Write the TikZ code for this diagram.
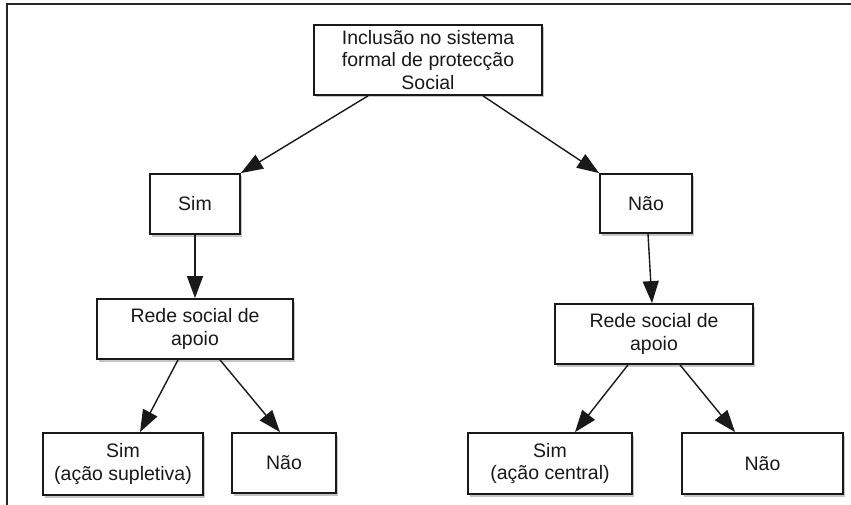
\documentclass[tikz,border=0pt]{standalone}
\usepackage{fontspec}
\setmainfont{Liberation Sans}
\usetikzlibrary{arrows.meta,shadows}

\begin{document}
\begin{tikzpicture}[x=1pt,y=-1pt,
	box/.style={draw=black!90,line width=1.8pt,fill=white,align=center,inner sep=0pt,
		font=\fontsize{19.5}{22.5}\selectfont,text=black!90,
		drop shadow={shadow xshift=2pt,shadow yshift=-2.5pt,fill=black!45}},
	arr/.style={-{Triangle[length=22pt,width=16pt]},line width=1.4pt,draw=black!90}]
			\useasboundingbox (0,0) rectangle (851,505);
			\draw[line width=2.5pt,black!85] (7,505) -- (7,4) -- (851,4);
			\node[box,minimum width=228,minimum height=70] (top) at (428,60) {Inclusão no sistema\\formal de protecção\\Social};
			\node[box,minimum width=90,minimum height=60] (sim) at (195,204) {Sim};
			\node[box,minimum width=92,minimum height=59] (nao) at (646,203.5) {Não};
			\node[box,minimum width=196,minimum height=60] (redeL) at (195,329) {Rede social de\\apoio};
			\node[box,minimum width=198,minimum height=60] (redeR) at (654,334) {Rede social de\\apoio};
			\node[box,minimum width=160,minimum height=62] (simS) at (123,464) {Sim\\(ação supletiva)};
			\node[box,minimum width=104,minimum height=60] (naoL) at (284,463) {Não};
			\node[box,minimum width=164,minimum height=61] (simC) at (550,463.5) {Sim\\(ação central)};
			\node[box,minimum width=161,minimum height=61] (naoR) at (762.5,463.5) {Não};
			\draw[arr] ([xshift=-60pt]top.south) -- (sim.north east);
			\draw[arr] ([xshift=55pt]top.south) -- (nao.north west);
			\draw[arr] (sim.south) -- (redeL.north);
			\draw[arr] ([xshift=2pt]nao.south) -- ([xshift=-2pt]redeR.north);
			\draw[arr] ([xshift=-17pt]redeL.south) -- ([xshift=17pt]simS.north);
			\draw[arr] ([xshift=25pt]redeL.south) -- ([xshift=-4pt]naoL.north);
			\draw[arr] ([xshift=-26pt]redeR.south) -- ([xshift=25pt]simC.north);
			\draw[arr] ([xshift=26pt]redeR.south) -- ([xshift=-27.5pt]naoR.north);
		\end{tikzpicture}
\end{document}
